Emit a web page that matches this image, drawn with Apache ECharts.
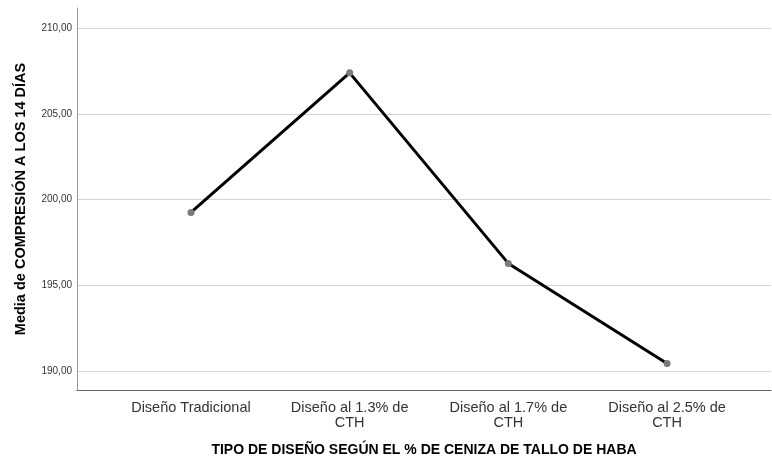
<!DOCTYPE html>
<html>
<head>
<meta charset="utf-8">
<script src="https://cdn.jsdelivr.net/npm/echarts@6/dist/echarts.min.js"></script>
<style>
  html, body { margin: 0; padding: 0; background: #fff; }
  #chart { width: 772px; height: 457px; }
</style>
</head>
<body>
<div id="chart"></div>
<script>
const categories = ['Diseño Tradicional', 'Diseño al 1.3% de\nCTH', 'Diseño al 1.7% de\nCTH', 'Diseño al 2.5% de\nCTH'];
const meanValues = [199.25, 207.39, 196.28, 190.45];
const yTicks = [190, 195, 200, 205, 210];

const font = '"Liberation Sans", Arial, sans-serif';
const xIdx = categories.map((c, i) => i);

const chart = echarts.init(document.getElementById('chart'));
chart.setOption({
  animation: false,
  textStyle: { fontFamily: font },
  grid: { left: 77, right: 1, top: 8, bottom: 67, outerBoundsMode: 'none' },
  xAxis: {
    type: 'value',
    min: -0.718,
    max: 3.655,
    name: 'TIPO DE DISEÑO SEGÚN EL % DE CENIZA DE TALLO DE HABA',
    nameLocation: 'middle',
    nameGap: 53,
    nameTextStyle: { fontFamily: font, fontSize: 14, fontWeight: 'bold', color: '#000' },
    axisLine: { show: true, onZero: false, lineStyle: { color: '#666', width: 1 } },
    axisTick: { show: false, customValues: xIdx },
    splitLine: { show: false },
    axisLabel: {
      customValues: xIdx,
      formatter: (v) => categories[Math.round(v)],
      fontFamily: font,
      fontSize: 14.5,
      color: '#333',
      lineHeight: 15,
      margin: 10,
      align: 'center'
    }
  },
  yAxis: {
    type: 'value',
    min: 188.9,
    max: 211.17,
    name: 'Media de COMPRESIÓN A LOS 14 DÍAS',
    nameLocation: 'middle',
    nameGap: 49,
    nameTextStyle: { fontFamily: font, fontSize: 14.5, fontWeight: 'bold', color: '#000' },
    axisLine: { show: true, onZero: false, lineStyle: { color: '#999', width: 1 } },
    axisTick: { show: false, customValues: yTicks },
    splitLine: { show: true, lineStyle: { color: '#d4d4d4', width: 1 } },
    axisLabel: {
      customValues: yTicks,
      formatter: (v) => v.toFixed(2).replace('.', ','),
      fontFamily: font,
      fontSize: 10,
      color: '#333',
      margin: 5
    }
  },
  series: [{
    type: 'line',
    data: meanValues.map((v, i) => [xIdx[i], v]),
    symbol: 'circle',
    symbolSize: 7,
    itemStyle: { color: '#7a7a7a' },
    lineStyle: { color: '#000', width: 3 },
    z: 3
  }]
});
</script>
</body>
</html>
